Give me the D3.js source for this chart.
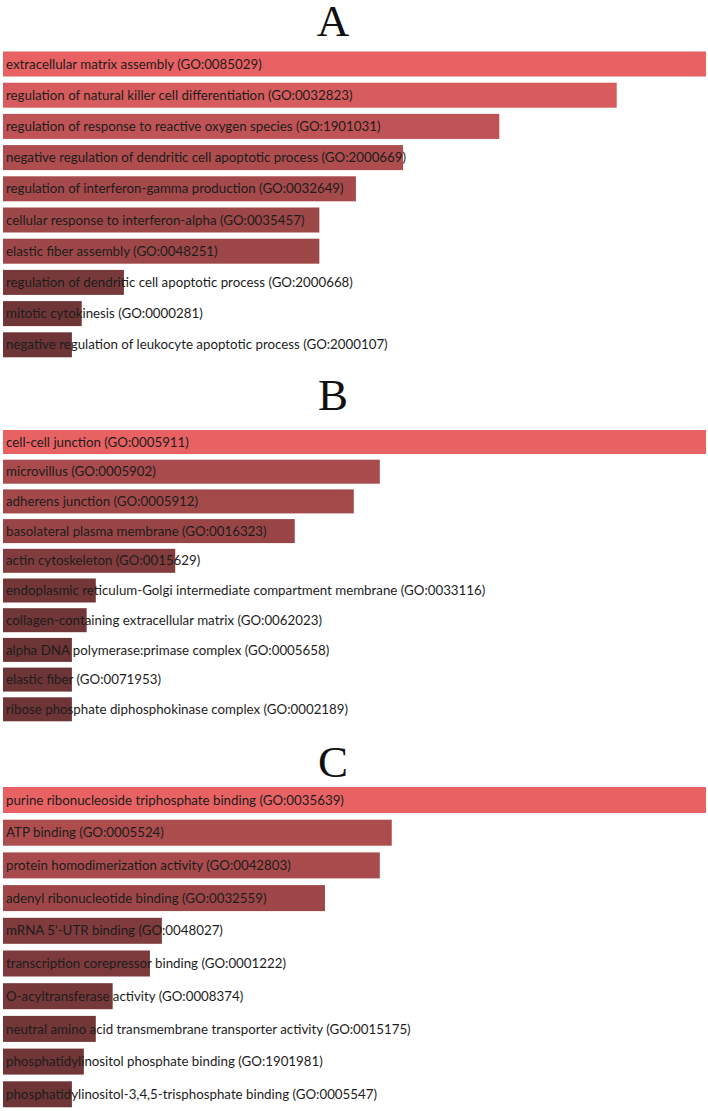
<!DOCTYPE html>
<html>
<head>
<meta charset="utf-8">
<script src="https://cdn.jsdelivr.net/npm/d3@7"></script>
<style>
  body { margin: 0; background: #fff; }
  .label { font-family: "Lato", "Open Sans", sans-serif; font-size: 13.3px; fill: #1c1c1c; }
  .title { font-family: "Liberation Serif", "DejaVu Serif", serif; font-size: 45px; fill: #111; }
</style>
</head>
<body>
<div id="chart"></div>
<script>
// --- data ---
const termsA = [
  "extracellular matrix assembly (GO:0085029)",
  "regulation of natural killer cell differentiation (GO:0032823)",
  "regulation of response to reactive oxygen species (GO:1901031)",
  "negative regulation of dendritic cell apoptotic process (GO:2000669)",
  "regulation of interferon-gamma production (GO:0032649)",
  "cellular response to interferon-alpha (GO:0035457)",
  "elastic fiber assembly (GO:0048251)",
  "regulation of dendritic cell apoptotic process (GO:2000668)",
  "mitotic cytokinesis (GO:0000281)",
  "negative regulation of leukocyte apoptotic process (GO:2000107)"
];
const valuesA = [100, 87.3, 70.6, 56.9, 50.2, 45.0, 45.0, 17.2, 11.2, 9.8];

const termsB = [
  "cell-cell junction (GO:0005911)",
  "microvillus (GO:0005902)",
  "adherens junction (GO:0005912)",
  "basolateral plasma membrane (GO:0016323)",
  "actin cytoskeleton (GO:0015629)",
  "endoplasmic reticulum-Golgi intermediate compartment membrane (GO:0033116)",
  "collagen-containing extracellular matrix (GO:0062023)",
  "alpha DNA polymerase:primase complex (GO:0005658)",
  "elastic fiber (GO:0071953)",
  "ribose phosphate diphosphokinase complex (GO:0002189)"
];
const valuesB = [100, 53.6, 49.9, 41.5, 24.5, 13.2, 11.9, 9.8, 9.8, 9.8];

const termsC = [
  "purine ribonucleoside triphosphate binding (GO:0035639)",
  "ATP binding (GO:0005524)",
  "protein homodimerization activity (GO:0042803)",
  "adenyl ribonucleotide binding (GO:0032559)",
  "mRNA 5'-UTR binding (GO:0048027)",
  "transcription corepressor binding (GO:0001222)",
  "O-acyltransferase activity (GO:0008374)",
  "neutral amino acid transmembrane transporter activity (GO:0015175)",
  "phosphatidylinositol phosphate binding (GO:1901981)",
  "phosphatidylinositol-3,4,5-trisphosphate binding (GO:0005547)"
];
const valuesC = [100, 55.3, 53.6, 45.8, 22.6, 20.9, 15.6, 13.2, 11.5, 9.8];

const panelTitles = ["A", "B", "C"];

// --- layout ---
const width = 708, height = 1111;
const panels = [
  { title: panelTitles[0], terms: termsA, values: valuesA, titleY: 36,  top: 51.5, step: 31.2, bar: 25 },
  { title: panelTitles[1], terms: termsB, values: valuesB, titleY: 410, top: 430,  step: 29.7, bar: 24 },
  { title: panelTitles[2], terms: termsC, values: valuesC, titleY: 777, top: 787,  step: 32.7, bar: 26 }
];

const svg = d3.select("#chart").append("svg")
  .attr("width", width)
  .attr("height", height);

// brighter red for higher scores
const color = d3.scaleLinear()
  .domain([0, 1])
  .range(["#613031", "#e86264"])
  .interpolate(d3.interpolateRgb);

panels.forEach(p => {
  const g = svg.append("g");
  const n = p.terms.length;
  const pad = 1 - p.bar / p.step;

  const x = d3.scaleLinear()
    .domain([0, d3.max(p.values)])
    .range([3, 706]);

  const y = d3.scaleBand()
    .domain(p.terms)
    .range([p.top, p.top + p.step * (n - pad)])
    .paddingInner(pad)
    .paddingOuter(0);

  g.append("text")
    .attr("class", "title")
    .attr("x", 333)
    .attr("y", p.titleY)
    .attr("text-anchor", "middle")
    .text(p.title);

  const rows = p.terms.map((t, i) => ({ term: t, value: p.values[i] }));
  const maxV = d3.max(p.values);

  g.selectAll("rect")
    .data(rows)
    .join("rect")
    .attr("x", x(0))
    .attr("y", d => y(d.term))
    .attr("width", d => x(d.value) - x(0))
    .attr("height", y.bandwidth())
    .attr("fill", d => color(d.value / maxV));

  g.selectAll("text.label")
    .data(rows)
    .join("text")
    .attr("class", "label")
    .attr("x", 6)
    .attr("y", d => y(d.term) + y.bandwidth() / 2)
    .attr("dy", "0.35em")
    .text(d => d.term);
});
</script>
</body>
</html>
